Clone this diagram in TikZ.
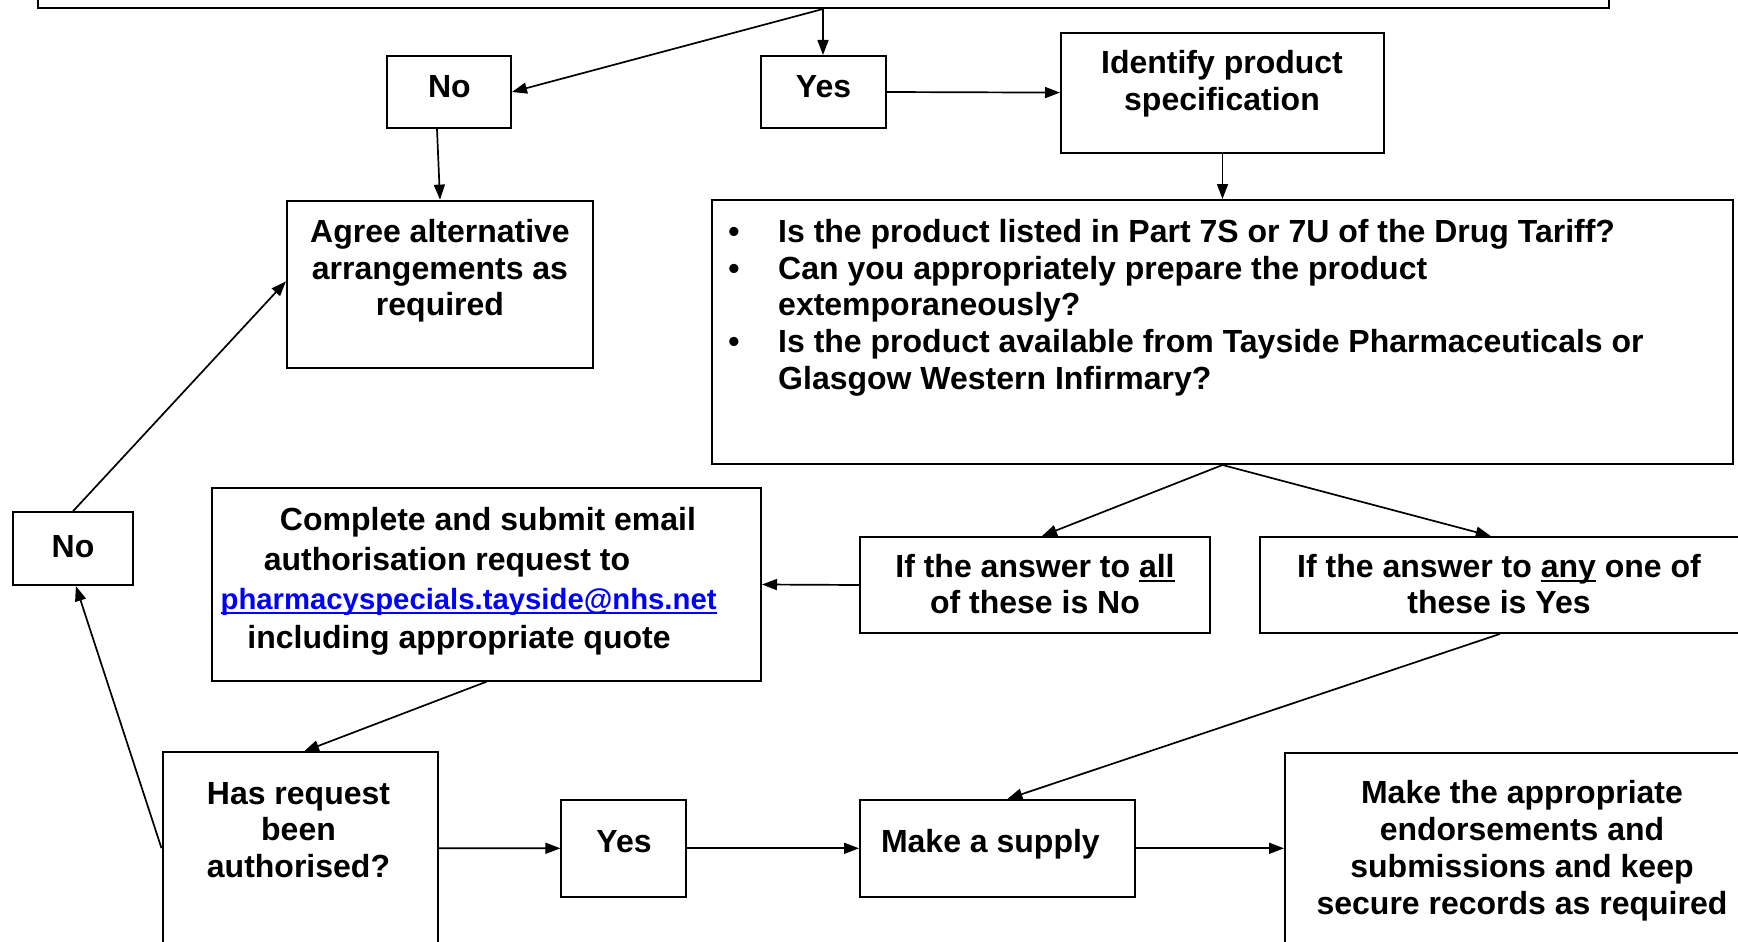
\documentclass[tikz,border=0pt]{standalone}
\usepackage{fontspec}
\setmainfont{Liberation Sans}
\usetikzlibrary{arrows.meta}
\definecolor{linkblue}{RGB}{0,0,255}
\newcommand\myul[2][2.6pt]{\setbox0\hbox{#2}\rlap{\rule[-4.6pt]{\wd0}{#1}}\box0\relax}
\begin{document}
\begin{tikzpicture}[x=1pt,y=-1pt,
  box/.style={draw=black,line width=2pt,inner sep=0pt,minimum width=#1},
  txt/.style={inner sep=0pt,anchor=base,font=\fontsize{32}{36.8}\selectfont\bfseries},
  ltxt/.style={txt,anchor=base west},
  conn/.style={line width=1.7pt,-{Triangle[length=15pt,width=11pt]}}]
\useasboundingbox (0,0) rectangle (1738,942);
\clip (0,0) rectangle (1738,942);
\fill[white] (0,0) rectangle (1738,942);
% boxes
\node[box=1571pt,minimum height=108pt] (top) at (823,-46) {};
\node[box=124pt,minimum height=72pt] (no1) at (449,92) {};
\node[box=125pt,minimum height=72pt] (yes1) at (823,92) {};
\node[box=323pt,minimum height=120pt] (ident) at (1222.5,92.6) {};
\node[box=1021pt,minimum height=264pt] (bullets) at (1222.5,332) {};
\node[box=306pt,minimum height=167.4pt] (agree) at (440,284.3) {};
\node[box=549pt,minimum height=192.4pt] (email) at (486.5,584.5) {};
\node[box=350pt,minimum height=96pt] (all) at (1035,585) {};
\node[box=480.5pt,minimum height=96pt] (any) at (1499.75,585) {};
\node[box=119.7pt,minimum height=72.7pt] (no2) at (72.9,548.7) {};
\node[box=275pt,minimum height=191.7pt] (has) at (300,848.2) {};
\node[box=124.6pt,minimum height=96.7pt] (yes2) at (623.7,848.3) {};
\node[box=274.8pt,minimum height=96.7pt] (supply) at (997.4,848.3) {};
\node[box=515pt,minimum height=191.3pt] (endorse) at (1542.5,848.3) {};
% texts
\node[txt] (tno1) at (449.4,97.3) {No};
\node[txt] (tyes1) at (823.5,97.3) {Yes};
\node[txt] (tid1) at (1222,73.8) {Identify product};
\node[txt] (tid2) at (1222,110.6) {specification};
\node[txt] (b1) at (734,242.3) {•};
\node[txt] (b2) at (734,279.1) {•};
\node[txt] (b3) at (734,352.7) {•};
\node[ltxt] (tb1) at (778,242.3) {Is the product listed in Part 7S or 7U of the Drug Tariff?};
\node[ltxt] (tb2) at (778,279.1) {Can you appropriately prepare the product};
\node[ltxt] (tb3) at (778,315.9) {extemporaneously?};
\node[ltxt] (tb4) at (778,352.7) {Is the product available from Tayside Pharmaceuticals or};
\node[ltxt] (tb5) at (778,389.5) {Glasgow Western Infirmary?};
\node[txt] (tag1) at (440,242.3) {Agree alternative};
\node[txt] (tag2) at (440,279.1) {arrangements as};
\node[txt] (tag3) at (440,315.9) {required};
\node[txt] (tem1) at (488,530.7) {Complete and submit email};
\node[txt] (tem2) at (447,570) {authorisation request to};
\node[txt,text=linkblue,font=\fontsize{29.3}{34}\selectfont\bfseries] (tem3) at (468.6,609.3) {\myul[2pt]{pharmacyspecials.tayside@nhs.net}};
\node[txt] (tem4) at (459,648.3) {including appropriate quote};
\node[txt] (tall1) at (1035,577.5) {If the answer to \myul{all}};
\node[txt] (tall2) at (1035,613.5) {of these is No};
\node[txt] (tany1) at (1499,577.5) {If the answer to \myul{any} one of};
\node[txt] (tany2) at (1499,613.5) {these is Yes};
\node[txt] (tno2) at (73,557.3) {No};
\node[txt] (thas1) at (298.5,804) {Has request};
\node[txt] (thas2) at (298.5,840.7) {been};
\node[txt] (thas3) at (298.5,877.5) {authorised?};
\node[txt] (tyes2) at (624,852.5) {Yes};
\node[txt] (tsup) at (990.4,852.3) {Make a supply};
\node[txt] (ten1) at (1522,803.5) {Make the appropriate};
\node[txt] (ten2) at (1522,840.4) {endorsements and};
\node[txt] (ten3) at (1522,877.3) {submissions and keep};
\node[txt] (ten4) at (1522,914.2) {secure records as required};
% connectors
\draw[conn] (top.south) -- (no1.east);
\draw[conn] (top.south) -- (yes1.north);
\draw[conn] (yes1.east) -- (ident.west);
\draw[conn] (ident.south) -- (bullets.north);
\draw[conn] ([xshift=-12pt]no1.south) -- (agree.north);
\draw[conn] (bullets.south) -- ([xshift=7pt]all.north);
\draw[conn] (bullets.south) -- ([xshift=-9pt]any.north);
\draw[conn] (all.west) -- (email.east);
\draw[conn] (email.south) -- ([xshift=4pt]has.north);
\draw[conn] (any.south) -- ([xshift=10pt]supply.north);
\draw[conn] (has.east) -- (yes2.west);
\draw[conn] (yes2.east) -- (supply.west);
\draw[conn] (supply.east) -- (endorse.west);
\draw[conn] (has.west) -- ([xshift=3pt]no2.south);
\draw[conn] (no2.north) -- ([yshift=3pt]agree.west);
\end{tikzpicture}
\end{document}
